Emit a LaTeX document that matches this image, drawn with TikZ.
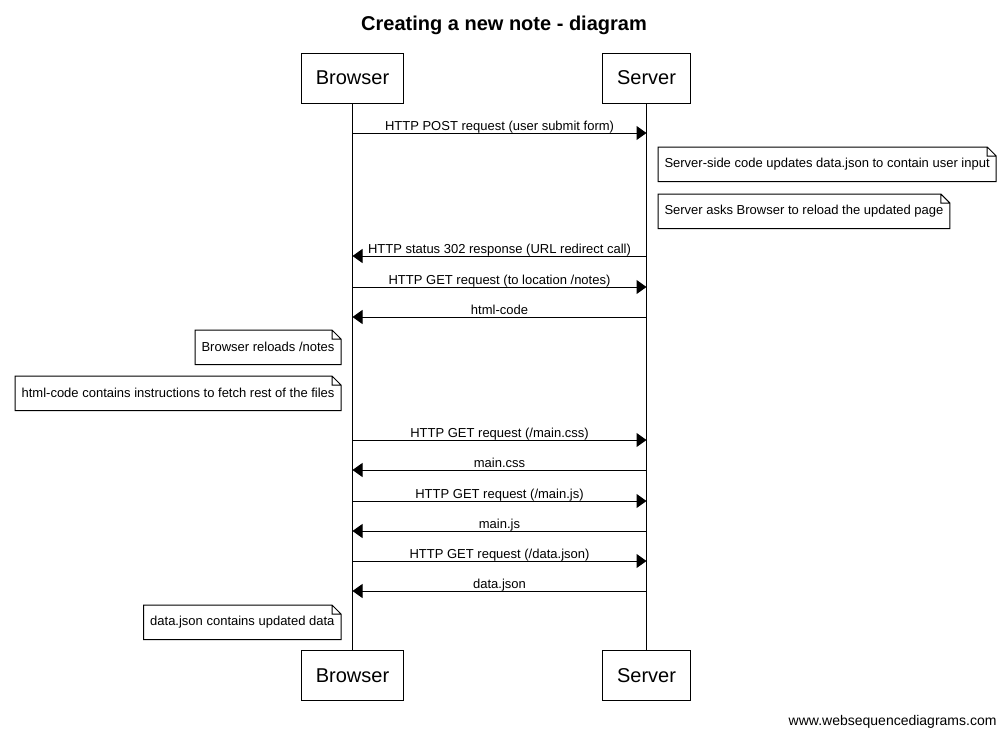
\documentclass[tikz,border=0pt]{standalone}
\usepackage{fontspec}
\setmainfont{Liberation Sans}
\usetikzlibrary{arrows.meta}

\begin{document}
\begin{tikzpicture}[x=1pt,y=-1pt,line width=1pt,
  actor/.style={draw,minimum height=50pt,inner xsep=14.5pt,font=\fontsize{20}{24}\selectfont},
  msg/.style={-{Triangle[length=10pt,width=14pt]}},
  lbl/.style={midway,anchor=base,yshift=3pt,inner sep=0pt,font=\fontsize{13}{15}\selectfont},
  note/.style={minimum height=33.5pt,inner xsep=6pt,font=\fontsize{13}{15}\selectfont}]

\useasboundingbox (0,0) rectangle (1006,734);

% title
\node[anchor=base,font=\bfseries\fontsize{20}{24}\selectfont] (title) at (504,30) {Creating a new note - diagram};

% participants
\node[actor] (b1) at (352.5,78) {Browser};
\node[actor] (s1) at (646.5,78) {Server};
\node[actor] (b2) at (352.5,675.5) {Browser};
\node[actor] (s2) at (646.5,675.5) {Server};

% lifelines
\draw (b1) -- (b2);
\draw (s1) -- (s2);

% form submit and redirect
\draw[msg] (b1 |- 0,133) -- (s1 |- 0,133) node[lbl] {HTTP POST request (user submit form)};
\node[note,anchor=north west] (n1) at (658,147) {Server-side code updates data.json to contain user input};
\node[note,anchor=north west] (n2) at (658,194) {Server asks Browser to reload the updated page};
\draw[msg] (s1 |- 0,256) -- (b1 |- 0,256) node[lbl] {HTTP status 302 response (URL redirect call)};
\draw[msg] (b1 |- 0,287) -- (s1 |- 0,287) node[lbl] {HTTP GET request (to location /notes)};
\draw[msg] (s1 |- 0,317) -- (b1 |- 0,317) node[lbl] {html-code};
\node[note,anchor=north east] (n3) at (341,330) {Browser reloads /notes};
\node[note,anchor=north east] (n4) at (341,376) {html-code contains instructions to fetch rest of the files};

% other files
\draw[msg] (b1 |- 0,440) -- (s1 |- 0,440) node[lbl] {HTTP GET request (/main.css)};
\draw[msg] (s1 |- 0,470) -- (b1 |- 0,470) node[lbl] {main.css};
\draw[msg] (b1 |- 0,501) -- (s1 |- 0,501) node[lbl] {HTTP GET request (/main.js)};
\draw[msg] (s1 |- 0,531) -- (b1 |- 0,531) node[lbl] {main.js};
\draw[msg] (b1 |- 0,561) -- (s1 |- 0,561) node[lbl] {HTTP GET request (/data.json)};
\draw[msg] (s1 |- 0,591) -- (b1 |- 0,591) node[lbl] {data.json};
\node[note,anchor=north east] (n5) at (341,605) {data.json contains updated data};

% note outlines with folded corner
\foreach \n in {n1,n2,n3,n4,n5}
  \draw (\n.north west) -- ([xshift=-9pt]\n.north east) -- ([yshift=-9pt]\n.north east)
     -- (\n.south east) -- (\n.south west) -- cycle
     ([xshift=-9pt]\n.north east) |- ([yshift=-9pt]\n.north east);

\node[anchor=base east,inner sep=0pt,font=\fontsize{14}{16}\selectfont] (wm) at (997,725) {www.websequencediagrams.com};

\end{tikzpicture}
\end{document}
